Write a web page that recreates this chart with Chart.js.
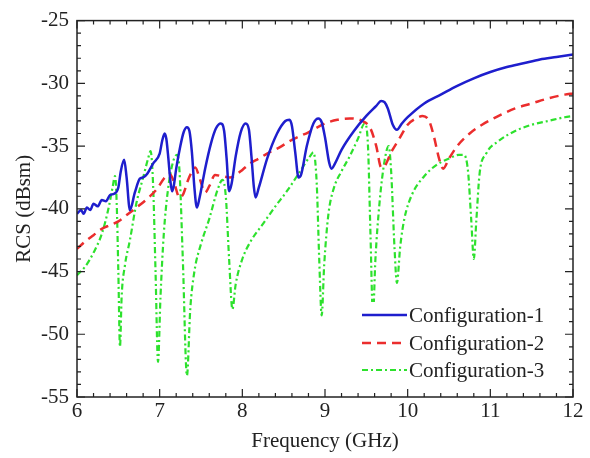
<!DOCTYPE html>
<html>
<head>
<meta charset="utf-8">
<script src="https://cdn.jsdelivr.net/npm/chart.js@4"></script>
<style>
  body { margin: 0; background: #fff; }
  #wrap { width: 590px; height: 458px; }
</style>
</head>
<body>
<div id="wrap"><canvas id="rcsChart"></canvas></div>
<script>
// values
const seriesNames = ['Configuration-1', 'Configuration-2', 'Configuration-3'];

const freq1 = [6.0, 6.05, 6.08, 6.12, 6.16, 6.2, 6.25, 6.3, 6.35, 6.4, 6.45, 6.5, 6.53, 6.57, 6.6, 6.64, 6.7, 6.76, 6.8, 6.85, 6.92, 7.0, 7.03, 7.06, 7.08, 7.1, 7.13, 7.15, 7.17, 7.2, 7.25, 7.29, 7.33, 7.36, 7.39, 7.42, 7.45, 7.48, 7.55, 7.62, 7.68, 7.74, 7.78, 7.81, 7.84, 7.87, 7.92, 7.98, 8.04, 8.08, 8.11, 8.14, 8.16, 8.2, 8.3, 8.42, 8.52, 8.57, 8.6, 8.64, 8.68, 8.71, 8.78, 8.86, 8.92, 8.96, 9.0, 9.05, 9.08, 9.12, 9.2, 9.35, 9.5, 9.62, 9.68, 9.72, 9.76, 9.82, 9.87, 9.93, 10.0, 10.2, 10.4, 10.6, 10.8, 11.0, 11.2, 11.4, 11.6, 11.8, 12.0];
const rcs1 = [-40.4, -40.1, -40.4, -39.9, -40.1, -39.6, -39.8, -39.3, -39.4, -38.9, -38.8, -38.3, -37.0, -36.1, -37.5, -40.1, -38.7, -37.6, -37.5, -37.2, -36.4, -35.6, -34.6, -34.0, -34.4, -35.6, -37.8, -38.6, -38.2, -36.8, -35.0, -33.9, -33.5, -33.8, -35.5, -38.3, -39.9, -39.2, -36.8, -34.8, -33.6, -33.2, -33.8, -36.0, -38.6, -38.0, -35.8, -33.9, -33.2, -33.7, -35.8, -38.3, -39.1, -38.3, -36.0, -34.0, -33.0, -32.9, -33.4, -35.5, -37.5, -37.3, -35.0, -33.2, -32.8, -33.1, -34.3, -36.3, -36.8, -36.4, -35.3, -33.8, -32.6, -31.8, -31.4, -31.5, -32.0, -33.3, -33.7, -33.2, -32.7, -31.6, -30.9, -30.2, -29.6, -29.1, -28.7, -28.4, -28.1, -27.9, -27.7];

const freq2 = [6.0, 6.1, 6.2, 6.3, 6.4, 6.5, 6.6, 6.7, 6.85, 6.97, 7.05, 7.12, 7.17, 7.24, 7.28, 7.35, 7.43, 7.49, 7.55, 7.6, 7.67, 7.75, 7.85, 7.92, 8.0, 8.09, 8.2, 8.3, 8.45, 8.6, 8.8, 9.0, 9.15, 9.3, 9.45, 9.55, 9.62, 9.68, 9.72, 9.8, 9.9, 10.0, 10.1, 10.18, 10.26, 10.32, 10.38, 10.43, 10.5, 10.6, 10.75, 10.9, 11.1, 11.3, 11.5, 11.7, 11.9, 12.0];
const rcs2 = [-43.2, -42.6, -42.1, -41.6, -41.3, -41.0, -40.5, -40.0, -39.2, -38.4, -37.6, -37.2, -37.8, -39.1, -38.9, -37.6, -36.7, -37.7, -38.7, -38.2, -37.3, -37.4, -37.5, -37.3, -36.9, -36.4, -36.0, -35.6, -35.1, -34.5, -33.9, -33.2, -32.9, -32.8, -33.0, -33.6, -35.0, -36.7, -36.6, -35.5, -34.4, -33.3, -32.8, -32.6, -33.0, -34.3, -36.0, -36.8, -36.0, -35.0, -34.0, -33.3, -32.6, -32.0, -31.6, -31.2, -30.9, -30.8];

const freq3 = [6.0, 6.1, 6.2, 6.3, 6.38, 6.43, 6.46, 6.48, 6.5, 6.52, 6.54, 6.58, 6.64, 6.72, 6.8, 6.86, 6.89, 6.92, 6.95, 6.98, 7.01, 7.05, 7.1, 7.16, 7.21, 7.24, 7.28, 7.33, 7.37, 7.42, 7.5, 7.6, 7.7, 7.76, 7.8, 7.84, 7.88, 7.92, 8.0, 8.1, 8.25, 8.4, 8.55, 8.7, 8.82, 8.86, 8.9, 8.93, 8.96, 8.99, 9.04, 9.1, 9.2, 9.3, 9.4, 9.48, 9.52, 9.55, 9.58, 9.61, 9.66, 9.72, 9.77, 9.8, 9.84, 9.87, 9.91, 9.96, 10.05, 10.2, 10.35, 10.5, 10.62, 10.68, 10.73, 10.77, 10.8, 10.83, 10.87, 10.95, 11.1, 11.3, 11.5, 11.7, 11.9, 12.0];
const rcs3 = [-45.3, -44.6, -43.5, -42.0, -40.0, -38.3, -37.4, -39.5, -45.0, -51.0, -47.0, -44.5, -42.5, -39.5, -37.5, -36.0, -35.4, -38.0, -45.0, -52.2, -47.0, -42.0, -38.5, -36.3, -35.7, -37.0, -44.0, -53.3, -48.0, -45.0, -42.8, -40.8, -38.5, -37.7, -39.0, -44.0, -48.0, -46.0, -44.0, -42.6, -41.2, -39.8, -38.5, -37.0, -35.8, -35.5, -38.0, -44.0, -48.5, -44.5, -40.5, -38.5, -37.0, -35.8, -34.4, -33.2, -35.0, -42.0, -48.5, -44.0, -39.5, -36.2, -35.0, -37.0, -43.0, -45.9, -43.0, -40.8, -38.9, -37.4, -36.5, -36.0, -35.7, -35.7, -37.0, -41.0, -44.0, -41.0, -37.2, -35.6, -34.6, -33.8, -33.3, -33.0, -32.7, -32.6];

const xTicks = [6, 7, 8, 9, 10, 11, 12];
const yTicks = [-55, -50, -45, -40, -35, -30, -25];

const FONT = "'Liberation Serif', 'Times New Roman', serif";
const FONT_SIZE = 21;

function toPoints(xs, ys) {
    return xs.map((x, i) => ({ x: x, y: ys[i] }));
}

// frame, inward ticks on all sides, and the legend
const framePlugin = {
    id: 'frame',
    afterDraw(chart) {
        const ctx = chart.ctx;
        const a = chart.chartArea;
        const xs = chart.scales.x;
        const ys = chart.scales.y;
        ctx.save();
        ctx.strokeStyle = '#222';
        ctx.lineWidth = 1.5;
        ctx.strokeRect(a.left, a.top, a.right - a.left, a.bottom - a.top);

        ctx.lineWidth = 1.2;
        ctx.beginPath();
        for (let v = 6; v <= 12.0001; v += 0.2) {
            const px = xs.getPixelForValue(v);
            const major = Math.abs(v - Math.round(v)) < 0.01;
            const len = major ? 8 : 4;
            ctx.moveTo(px, a.bottom); ctx.lineTo(px, a.bottom - len);
            ctx.moveTo(px, a.top); ctx.lineTo(px, a.top + len);
        }
        for (let v = -55; v <= -25; v += 1) {
            const py = ys.getPixelForValue(v);
            const len = (v % 5 === 0) ? 8 : 4;
            ctx.moveTo(a.left, py); ctx.lineTo(a.left + len, py);
            ctx.moveTo(a.right, py); ctx.lineTo(a.right - len, py);
        }
        ctx.stroke();

        // legend
        const rows = [315, 343, 370];
        ctx.font = FONT_SIZE + 'px ' + FONT;
        ctx.textBaseline = 'middle';
        ctx.fillStyle = '#fff';
        ctx.fillRect(358, rows[0] - 13, 205, rows[2] - rows[0] + 26);
        chart.data.datasets.forEach((ds, i) => {
            const y = rows[i];
            ctx.strokeStyle = ds.borderColor;
            ctx.lineWidth = ds.borderWidth;
            ctx.setLineDash(ds.borderDash || []);
            ctx.beginPath();
            ctx.moveTo(362, y); ctx.lineTo(407, y);
            ctx.stroke();
            ctx.setLineDash([]);
            ctx.fillStyle = '#222';
            ctx.fillText(ds.label, 409, y + 1);
        });
        ctx.restore();
    }
};

const ctx = document.getElementById('rcsChart').getContext('2d');
const rcsChart = new Chart(ctx, {
    type: 'line',
    data: {
        datasets: [{
            label: seriesNames[0],
            data: toPoints(freq1, rcs1),
            borderColor: 'rgb(30, 30, 205)',
            borderWidth: 2.5
        }, {
            label: seriesNames[1],
            data: toPoints(freq2, rcs2),
            borderColor: 'rgb(235, 45, 45)',
            borderWidth: 2.5,
            borderDash: [9, 6]
        }, {
            label: seriesNames[2],
            data: toPoints(freq3, rcs3),
            borderColor: 'rgb(45, 225, 45)',
            borderWidth: 2.2,
            borderDash: [6, 3, 2, 3]
        }]
    },
    options: {
        responsive: true,
        maintainAspectRatio: false,
        animation: false,
        layout: { padding: { top: 17, right: 17, left: 0, bottom: 0 } },
        elements: {
            point: { radius: 0 },
            line: { cubicInterpolationMode: 'monotone', fill: false }
        },
        plugins: {
            legend: { display: false },
            tooltip: { enabled: false }
        },
        scales: {
            x: {
                type: 'linear',
                min: 6,
                max: 12,
                afterBuildTicks: (axis) => { axis.ticks = xTicks.map(v => ({ value: v })); },
                afterFit: (axis) => { axis.height = 61; },
                grid: { display: false, drawTicks: false },
                border: { display: false },
                ticks: { color: '#222', font: { family: FONT, size: FONT_SIZE }, padding: 2, maxRotation: 0 },
                title: { display: true, text: 'Frequency (GHz)', color: '#222', font: { family: FONT, size: FONT_SIZE }, padding: { top: 0, bottom: 4 } }
            },
            y: {
                min: -55,
                max: -25,
                afterBuildTicks: (axis) => { axis.ticks = yTicks.map(v => ({ value: v })); },
                afterFit: (axis) => { axis.width = 77; },
                grid: { display: false, drawTicks: false },
                border: { display: false },
                ticks: { color: '#222', font: { family: FONT, size: FONT_SIZE }, padding: 8 },
                title: { display: true, text: 'RCS (dBsm)', color: '#222', font: { family: FONT, size: FONT_SIZE }, padding: { top: 12, bottom: 0 } }
            }
        }
    },
    plugins: [framePlugin]
});
</script>
</body>
</html>
